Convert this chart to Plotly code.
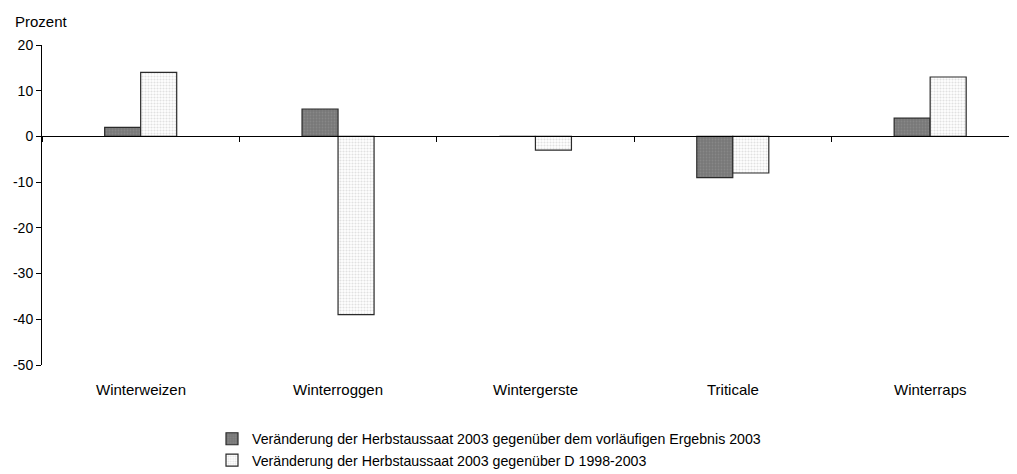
import plotly.graph_objects as go

categories = ["Winterweizen", "Winterroggen", "Wintergerste", "Triticale", "Winterraps"]
vs_vorlaeufig = [2, 6, 0, -9, 4]
vs_durchschnitt = [14, -39, -3, -8, 13]
series_names = [
    "Veränderung der Herbstaussaat 2003 gegenüber dem vorläufigen Ergebnis 2003",
    "Veränderung der Herbstaussaat 2003 gegenüber D 1998-2003",
]
y_ticks = [20, 10, 0, -10, -20, -30, -40, -50]
y_title = "Prozent"

Y_MIN, Y_MAX = -50, 20
FONT = "Liberation Sans, Arial, sans-serif"

# page offset of the figure div (default body margin)
OFF = 8
L, R, T, B = 42 - OFF, 8, 45 - OFF, 474 - (365 - OFF)
PW = 1017 - L - R
PH = 474 - T - B

fig = go.Figure()
fig.add_trace(go.Bar(
    x=categories, y=vs_vorlaeufig, name=series_names[0],
    marker=dict(color="#787878", line=dict(color="#2a2a2a", width=1.2),
                pattern=dict(shape=".", fgcolor="#959595", size=3, solidity=0.3)),
))
fig.add_trace(go.Bar(
    x=categories, y=vs_durchschnitt, name=series_names[1],
    marker=dict(color="#ffffff", line=dict(color="#2a2a2a", width=1.2),
                pattern=dict(shape=".", fgcolor="#c4c4c4", size=3, solidity=0.4)),
))

zero_pos = (0 - Y_MIN) / (Y_MAX - Y_MIN)

fig.update_layout(
    width=1017, height=474,
    margin=dict(l=L, r=R, t=T, b=B, autoexpand=False),
    paper_bgcolor="white", plot_bgcolor="white",
    barmode="group", bargap=0.635, bargroupgap=0,
    font=dict(family=FONT, size=15.5, color="black"),
    showlegend=True,
    legend=dict(orientation="v", x=(212 - 42) / PW, xanchor="left",
                y=-(423 - 365) / PH, yanchor="top",
                font=dict(size=14.2), itemwidth=30, tracegroupgap=0,
                bgcolor="rgba(0,0,0,0)"),
    xaxis=dict(type="category", categoryorder="array", categoryarray=categories,
               range=[-0.5, 4.44], anchor="free", position=zero_pos,
               showline=True, linecolor="black", linewidth=1,
               ticks="outside", tickson="boundaries", ticklen=5, tickcolor="black",
               showticklabels=False, showgrid=False, zeroline=False),
    yaxis=dict(range=[Y_MIN, Y_MAX], tickvals=y_ticks, ticktext=[str(v) for v in y_ticks],
               ticks="outside", ticklen=5,
               tickcolor="black", showline=True, linecolor="black", linewidth=1,
               showgrid=False, zeroline=False, tickfont=dict(size=14)),
)

for c in categories:
    fig.add_annotation(x=c, y=0, xref="x", yref="paper", text=c, showarrow=False,
                       yanchor="top", yshift=-14, font=dict(size=15))

fig.add_annotation(xref="paper", yref="paper", x=(13 - 42) / PW, y=(365 - 21) / PH,
                   text=y_title, showarrow=False, xanchor="left", yanchor="middle",
                   font=dict(size=15))

fig.write_html("out.html")
